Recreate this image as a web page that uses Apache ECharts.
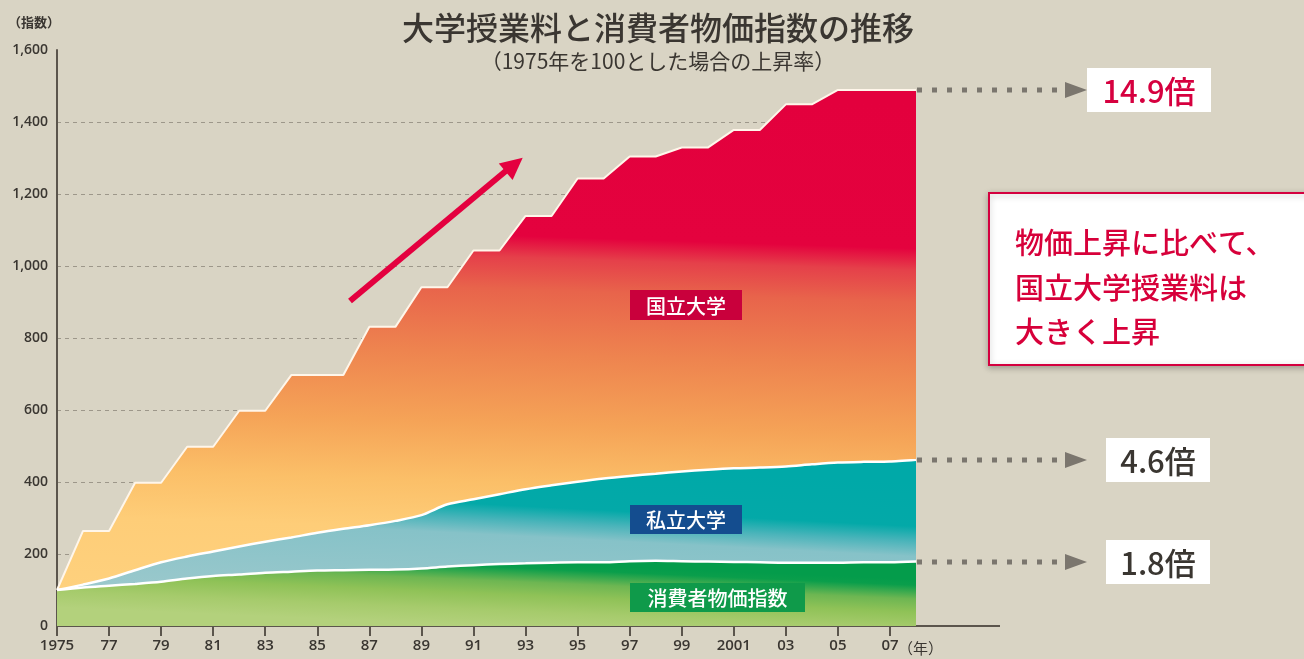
<!DOCTYPE html>
<html>
<head>
<meta charset="utf-8">
<title>大学授業料と消費者物価指数の推移</title>
<script src="https://cdn.jsdelivr.net/npm/echarts@6/dist/echarts.min.js"></script>
<style>
  html, body { margin: 0; padding: 0; background: #d9d4c4; }
  #main { width: 1304px; height: 659px; }
</style>
</head>
<body>
<div id="main"></div>
<script>
// 1975年を100とした指数
var years = ['1975','1976','1977','1978','1979','1980','1981','1982','1983','1984','1985','1986',
  '1987','1988','1989','1990','1991','1992','1993','1994','1995','1996','1997','1998','1999',
  '2000','2001','2002','2003','2004','2005','2006','2007','2008'];
var national = [100,264,264,398,398,498,498,598,598,697,697,697,831,831,941,941,1043,1043,
  1139,1139,1243,1243,1304,1304,1329,1329,1378,1378,1449,1449,1489,1489,1489,1489];
var privateU = [100,115,132,155,177,193,207,221,234,246,259,270,280,292,308,338,352,366,
  380,391,401,410,417,423,429,434,438,440,443,449,454,456,457,462];
var cpi = [100,107,112,117,123,132,139,143,148,151,154,155,156,157,160,165,169,172,
  174,176,177,177,180,181,180,179,178,177,176,176,176,177,177,179];
var seriesNames = ['国立大学', '私立大学', '消費者物価指数'];
var ratioLabels = ['14.9倍', '4.6倍', '1.8倍'];
var yTicks = { min: 0, max: 1600, interval: 200 };

var jp = '"Noto Sans CJK JP", sans-serif';
var num = '"Open Sans", "Noto Sans", sans-serif';
var ink = '#3a3631';

// gradient helper, x0/x1 tilt the colour bands a little
function grad(x0, x1, stops) {
  return new echarts.graphic.LinearGradient(x0, 0, x1, 1, stops.map(function (s) {
    return { offset: s[0], color: s[1] };
  }));
}

var chart = echarts.init(document.getElementById('main'));

var option = {
  backgroundColor: '#d9d4c4',
  animation: false,
  grid: { left: 57, right: 388, top: 50, bottom: 33 },
  xAxis: {
    type: 'category',
    data: years,
    boundaryGap: false,
    axisLine: { lineStyle: { color: '#5b554c', width: 2 } },
    axisTick: { interval: 1, length: 10, lineStyle: { color: '#5b554c', width: 2 } },
    axisLabel: {
      interval: 1, margin: 12, color: ink, fontSize: 15, fontWeight: 600, fontFamily: num,
      formatter: function (v) { return (v === '1975' || v === '2001') ? v : v.slice(2); }
    },
    splitLine: { show: false }
  },
  yAxis: {
    type: 'value',
    min: yTicks.min, max: yTicks.max, interval: yTicks.interval,
    axisLine: { show: true, lineStyle: { color: '#5b554c', width: 2 } },
    axisTick: { show: false },
    axisLabel: {
      margin: 9, color: ink, fontSize: 14, fontWeight: 600, fontFamily: num,
      formatter: function (v) { return String(v).replace(/\B(?=(\d{3})+(?!\d))/g, ','); }
    },
    splitLine: {
      show: true, showMinLine: false, showMaxLine: false,
      lineStyle: { color: '#9d978a', type: [4, 4], width: 1 }
    }
  },
  series: [
    {
      name: seriesNames[0], type: 'line', data: national, showSymbol: false, z: 2,
      lineStyle: { color: '#fff6ea', width: 2 },
      areaStyle: {
        opacity: 1,
        color: grad(0.5, 0.48, [[0, '#e3003d'], [0.27, '#e4023e'], [0.31, '#e5404a'], [0.37, '#e8644b'],
          [0.49, '#ee844f'], [0.62, '#f5a357'], [0.73, '#fbbf68'], [0.82, '#fecd78'], [1, '#fed27f']])
      }
    },
    {
      name: seriesNames[1], type: 'line', data: privateU, showSymbol: false, smooth: 0.3, z: 3,
      lineStyle: { color: '#ffffff', width: 2.5 },
      areaStyle: {
        opacity: 1,
        color: grad(0.51, 0.5, [[0, '#00a9a8'], [0.27, '#03a9a8'], [0.36, '#4ab4ba'], [0.45, '#86c2c8'], [1, '#a0cacd']])
      }
    },
    {
      name: seriesNames[2], type: 'line', data: cpi, showSymbol: false, smooth: 0.3, z: 4,
      lineStyle: { color: '#ffffff', width: 2.5 },
      areaStyle: {
        opacity: 1,
        color: grad(0.5033, 0.5, [[0, '#049c4b'], [0.09, '#0a9e4b'], [0.3, '#6db652'], [0.5, '#8fc257'], [0.75, '#a6cb6c'], [1, '#b3d17c']])
      }
    }
  ]
};
chart.setOption(option);

// annotations placed from the data end points
var last = years.length - 1;
var ends = [national[last], privateU[last], cpi[last]];
var g = [];
function add(el) { el.z = 20; g.push(el); }

add({ type: 'text', x: 658, y: 28, style: { text: '大学授業料と消費者物価指数の推移', font: '500 32px ' + jp, fill: ink, textAlign: 'center', textVerticalAlign: 'middle' } });
add({ type: 'text', x: 658, y: 61, style: { text: '（1975年を100とした場合の上昇率）', font: '21px ' + jp, fill: ink, textAlign: 'center', textVerticalAlign: 'middle' } });
add({ type: 'text', x: 8, y: 22, style: { text: '（指数）', font: 'bold 13px ' + jp, fill: ink, textVerticalAlign: 'middle' } });
add({ type: 'text', x: 898, y: 648, style: { text: '（年）', font: '15px ' + jp, fill: ink, textVerticalAlign: 'middle' } });

var axisY = chart.convertToPixel({ yAxisIndex: 0 }, 0);
var axisEnd = chart.convertToPixel({ xAxisIndex: 0 }, last);
add({ type: 'line', shape: { x1: axisEnd, y1: axisY, x2: 1000, y2: axisY }, style: { stroke: '#5b554c', lineWidth: 2 } });

// big red arrow
add({ type: 'line', shape: { x1: 350, y1: 301, x2: 507, y2: 170 }, style: { stroke: '#e4003f', lineWidth: 6 } });
add({ type: 'polygon', shape: { points: [[522.7, 157.7], [512.6, 180.1], [498.8, 163.5]] }, style: { fill: '#e4003f' } });

// series labels
function tag(x, y, w, h, text, bg) {
  add({ type: 'rect', shape: { x: x, y: y, width: w, height: h }, style: { fill: bg } });
  add({ type: 'text', x: x + w / 2, y: y + h / 2 + 1, style: { text: text, font: '500 20px ' + jp, fill: '#ffffff', textAlign: 'center', textVerticalAlign: 'middle' } });
}
tag(630, 290, 112, 30, seriesNames[0], '#c9003c');
tag(630, 505, 112, 29, seriesNames[1], '#144d8f');
tag(630, 583, 175, 29, seriesNames[2], '#0f9a4a');

// dotted arrows and ratio boxes
var boxes = [
  { x: 1087, w: 124, color: '#d6003f' },
  { x: 1106, w: 104, color: ink },
  { x: 1106, w: 104, color: ink }
];
ends.forEach(function (v, i) {
  var p = chart.convertToPixel({ gridIndex: 0 }, [last, v]);
  var y = Math.round(p[1]);
  add({ type: 'line', shape: { x1: p[0] + 1, y1: y, x2: 1066, y2: y }, style: { stroke: '#7b766e', lineWidth: 5, lineDash: [5, 10] } });
  add({ type: 'polygon', shape: { points: [[1065, y - 8], [1087, y], [1065, y + 8]] }, style: { fill: '#7b766e' } });
  var b = boxes[i];
  add({ type: 'rect', shape: { x: b.x, y: y - 22, width: b.w, height: 44 }, style: { fill: '#ffffff' } });
  add({ type: 'text', x: b.x + b.w / 2, y: y + 1, style: { text: ratioLabels[i], font: '500 31px ' + jp, fill: b.color, textAlign: 'center', textVerticalAlign: 'middle' } });
});

// callout box
add({ type: 'rect', shape: { x: 989, y: 193, width: 340, height: 172 }, style: { fill: '#ffffff', stroke: '#d4003f', lineWidth: 2, shadowBlur: 6, shadowColor: 'rgba(0,0,0,0.25)', shadowOffsetY: 2 } });
['物価上昇に比べて、', '国立大学授業料は', '大きく上昇'].forEach(function (t, i) {
  add({ type: 'text', x: 1015, y: 243 + i * 44.5, style: { text: t, font: '500 29px ' + jp, fill: '#d7003a', textVerticalAlign: 'middle' } });
});

chart.setOption({ graphic: g });
</script>
</body>
</html>
